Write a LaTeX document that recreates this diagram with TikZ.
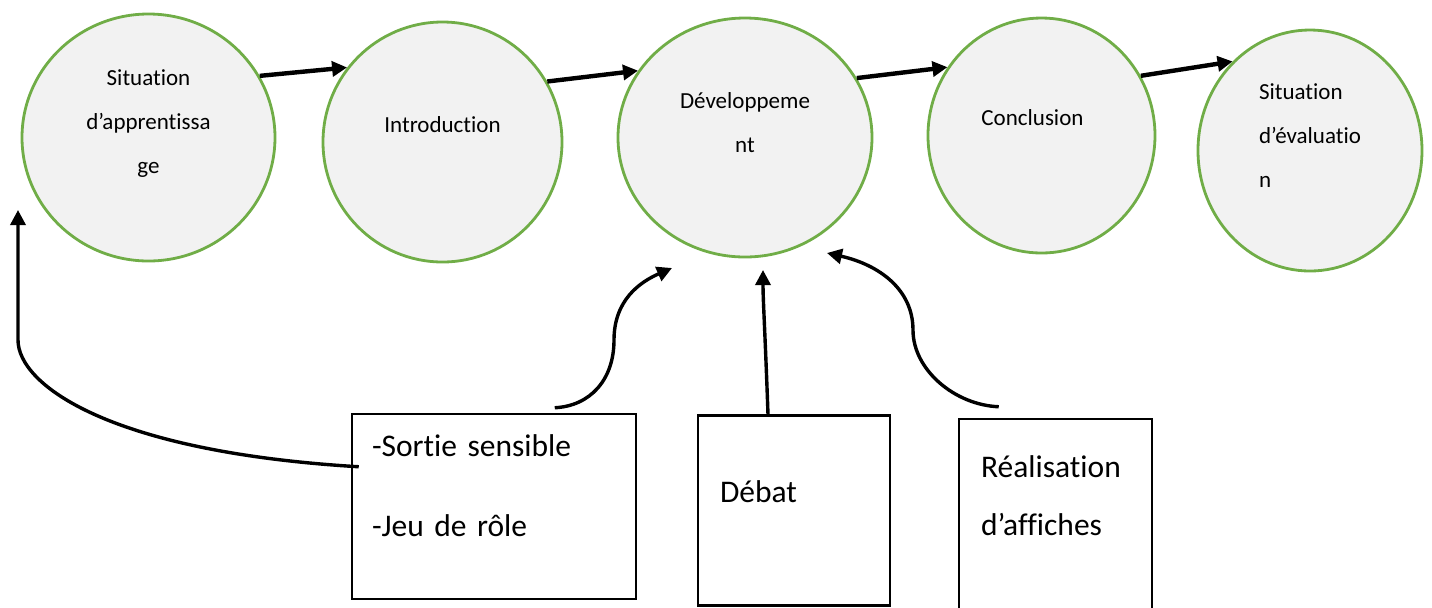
\documentclass[tikz,border=0pt]{standalone}
\usepackage{fontspec}
\setmainfont{Carlito}[Ligatures=NoCommon]
\usetikzlibrary{arrows.meta,positioning,shapes.geometric}
\definecolor{vert}{HTML}{70AD47}
\definecolor{fond}{HTML}{F2F2F2}
\newcommand{\bas}[1]{\rule[-#1]{0pt}{0pt}}

\begin{document}
\begin{tikzpicture}[
    x=0.5pt, y=-0.5pt,
    etape/.style={ellipse, draw=vert, fill=fond, line width=1.4pt, inner sep=0pt, align=center, font=\fontsize{11.5}{22}\selectfont},
    activite/.style={draw, line width=1.25pt, inner ysep=0pt, align=left, font=\fontsize{15.75}{29}\selectfont},
    suite/.style={->, line width=2.2pt},
    lien/.style={->, line width=1.7pt},
    >={Triangle[length=7.5pt, width=7.5pt]}]
    \useasboundingbox (0,0) rectangle (1432,607);
    % les etapes de la sequence
    \node[etape, minimum width=126.5pt, minimum height=123.5pt] (app) at (148.5,137.5) {Situation\\d’apprentissa\\ge\bas{16pt}};
    \node[etape, minimum width=119.5pt, minimum height=120pt] (intro) at (442.5,142) {Introduction\bas{17pt}};
    \node[etape, minimum width=127pt, minimum height=119.5pt] (dev) at (745,137.5) {Développeme\\nt\bas{15pt}};
    \node[etape, minimum width=113.5pt, minimum height=117.5pt] (concl) at (1041.5,135.5) {Conclusion\hspace*{9pt}\bas{17.5pt}};
    \node[etape, align=left, minimum width=112pt, minimum height=120.5pt] (eval) at (1310,150.5) {Situation\\d’évaluatio\hspace*{13pt}\\n\bas{14.5pt}};
    % les activites
    \node[activite, text width=122pt, inner xsep=10pt, minimum height=92.5pt] (jeux) at (494,506.5) {-Sortie sensible\\[11pt]-Jeu de rôle\bas{21pt}};
    \node[activite, text width=74pt, inner xsep=11pt, minimum height=95pt] (debat) at (794,510.5) {Débat\bas{18.5pt}};
    \node[activite, text width=74.5pt, inner xsep=11pt, minimum height=100pt] (affiches) at (1055.5,519) {Réalisation\\d’affiches\bas{23pt}};
    \coordinate (p1) at (18,210);
    \coordinate (p2) at (672,268);
    \coordinate (p3) at (763,270);
    \coordinate (p4) at (827,253);
    \draw[suite] (app.29) -- (intro.142);
    \draw[suite] (intro.30) -- (dev.148);
    \draw[suite] (dev.28) -- (concl.144);
    \draw[suite] (concl.31) -- (eval.131);
    \draw[lien] ([shift={(8,54)}]jeux.north west) .. controls (110,452) and (18,385) .. (18,340) -- (p1);
    \draw[lien] ([shift={(204,-5)}]jeux.north west) .. controls (590,406) and (614,380) .. (614,340) .. controls (614,300) and (640,282) .. (p2);
    \draw[lien] ([shift={(-26,0)}]debat.north) .. controls (765,330) and (763,300) .. (p3);
    \draw[lien] ([shift={(41,-11)}]affiches.north west) .. controls (955,405) and (913,370) .. (913,330) .. controls (913,290) and (880,265) .. (p4);
\end{tikzpicture}
\end{document}
